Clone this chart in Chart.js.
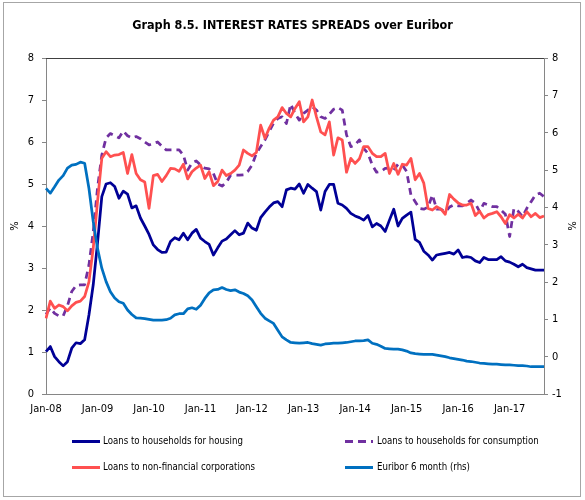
<!DOCTYPE html>
<html>
<head>
<meta charset="utf-8">
<script src="https://cdn.jsdelivr.net/npm/chart.js@4.4.1/dist/chart.umd.min.js"></script>
<style>
  html, body { margin: 0; padding: 0; background: #fff; }
  #wrap { position: relative; width: 585px; height: 500px; overflow: hidden; }
  #frame { position: absolute; left: 3px; top: 2px; width: 578px; height: 495px; border: 1px solid #a6a6a6; box-sizing: border-box; }
  canvas { position: absolute; left: 0; top: 0; }
  .lg { position: absolute; font-family: 'Liberation Sans Narrow', 'DejaVu Sans Condensed', sans-serif; font-size: 9.6px; color: #000; white-space: nowrap; line-height: 14px; }
  .sw { position: absolute; height: 3px; }
</style>
</head>
<body>
<div id="wrap">
  <div id="frame"></div>
  <canvas id="c" width="585" height="500"></canvas>
  <div id="legend"></div>
</div>
<script>
// ---- data (monthly, Jan-08 .. Sep-17) ----
const monthNames = ['Jan','Feb','Mar','Apr','May','Jun','Jul','Aug','Sep','Oct','Nov','Dec'];
const startYear = 2008;
const nMonths = 117;
const categories = [];
for (let i = 0; i < nMonths; i++) {
  const y = (startYear + Math.floor(i / 12)) % 100;
  categories.push(monthNames[i % 12] + '-' + (y < 10 ? '0' + y : '' + y));
}
const tickLabels = ['Jan-08','Jan-09','Jan-10','Jan-11','Jan-12','Jan-13','Jan-14','Jan-15','Jan-16','Jan-17'];

const housing = [
  1.01,1.13,0.89,0.77,0.67,0.77,1.09,1.22,1.20,1.29,1.88,2.60,
  3.60,4.70,5.00,5.03,4.94,4.66,4.83,4.76,4.43,4.48,4.19,4.00,
  3.80,3.55,3.44,3.37,3.38,3.63,3.72,3.67,3.83,3.67,3.83,3.92,
  3.71,3.63,3.56,3.31,3.48,3.64,3.69,3.79,3.89,3.79,3.83,4.07,
  3.95,3.90,4.20,4.33,4.45,4.55,4.58,4.46,4.86,4.90,4.88,5.00,
  4.78,4.99,4.90,4.82,4.38,4.82,4.99,4.99,4.54,4.50,4.42,4.30,
  4.24,4.20,4.14,4.25,3.98,4.06,4.00,3.87,4.14,4.40,4.00,4.18,
  4.26,4.33,3.68,3.61,3.40,3.31,3.19,3.31,3.33,3.35,3.37,3.33,
  3.43,3.25,3.27,3.25,3.17,3.13,3.25,3.20,3.20,3.20,3.27,3.17,
  3.14,3.09,3.03,3.09,3.01,2.98,2.95,2.95,2.95
];
const consumption = [
  1.90,2.05,1.92,1.86,1.86,2.10,2.44,2.58,2.60,2.60,3.07,3.86,
  4.90,5.69,6.10,6.20,6.15,6.10,6.26,6.15,6.10,6.13,6.08,6.00,
  5.93,5.97,6.00,5.90,5.81,5.81,5.81,5.81,5.69,5.33,5.50,5.55,
  5.45,5.38,5.36,5.25,5.00,4.95,5.04,5.21,5.21,5.21,5.22,5.30,
  5.45,5.73,5.89,6.05,6.25,6.45,6.56,6.60,6.44,6.90,6.68,6.52,
  6.68,6.76,6.84,6.76,6.60,6.56,6.66,6.78,6.82,6.76,6.17,5.89,
  5.93,6.05,5.85,5.73,5.45,5.28,5.30,5.37,5.38,5.33,5.47,5.45,
  5.30,4.74,4.58,4.42,4.40,4.45,4.74,4.40,4.40,4.34,4.45,4.50,
  4.48,4.48,4.54,4.62,4.54,4.34,4.54,4.50,4.46,4.46,4.38,4.28,
  3.75,4.42,4.35,4.22,4.42,4.58,4.74,4.78,4.70
];
const corporations = [
  1.80,2.21,2.04,2.12,2.08,1.98,2.10,2.18,2.21,2.32,2.67,3.47,
  4.58,5.61,5.77,5.65,5.69,5.70,5.75,5.25,5.70,5.25,5.10,5.05,
  4.42,5.20,5.23,5.06,5.20,5.37,5.36,5.30,5.47,5.12,5.29,5.38,
  5.45,5.13,5.29,4.96,5.06,5.33,5.20,5.25,5.33,5.45,5.81,5.73,
  5.67,5.75,6.40,6.09,6.33,6.52,6.60,6.82,6.68,6.60,6.80,6.96,
  6.48,6.60,7.00,6.60,6.24,6.17,6.48,5.69,6.10,6.05,5.28,5.61,
  5.49,5.60,5.89,5.89,5.73,5.65,5.65,5.73,5.25,5.49,5.23,5.47,
  5.45,5.61,5.10,5.25,5.02,4.42,4.38,4.46,4.40,4.28,4.75,4.64,
  4.55,4.50,4.50,4.54,4.25,4.35,4.19,4.27,4.30,4.34,4.22,4.06,
  4.27,4.19,4.28,4.19,4.34,4.22,4.30,4.20,4.24
];
const euribor6m = [
  4.51,4.38,4.55,4.73,4.85,5.05,5.13,5.15,5.21,5.18,4.51,3.62,
  2.90,2.37,2.01,1.74,1.57,1.47,1.43,1.25,1.13,1.04,1.03,1.02,
  1.00,0.98,0.98,0.98,0.99,1.03,1.12,1.15,1.15,1.28,1.31,1.27,
  1.38,1.56,1.71,1.79,1.80,1.85,1.80,1.77,1.79,1.73,1.69,1.63,
  1.52,1.34,1.16,1.03,0.96,0.89,0.71,0.53,0.45,0.38,0.37,0.36,
  0.37,0.38,0.35,0.33,0.31,0.34,0.35,0.36,0.36,0.37,0.38,0.40,
  0.42,0.42,0.43,0.45,0.36,0.33,0.28,0.22,0.21,0.20,0.20,0.18,
  0.15,0.10,0.08,0.07,0.06,0.06,0.06,0.04,0.02,0.00,-0.03,-0.05,
  -0.07,-0.09,-0.12,-0.13,-0.15,-0.17,-0.18,-0.19,-0.20,-0.20,-0.21,-0.22,
  -0.22,-0.23,-0.24,-0.24,-0.25,-0.27,-0.27,-0.27,-0.27
];

const seriesNames = ['Loans to households for housing','Loans to households for consumption','Loans to non-financial corporations','Euribor 6 month (rhs)'];
const seriesColors = ['#000096','#7030A0','#FF5050','#0070C0'];

// ---- chart ----
const FONT = "'Liberation Sans Narrow', 'DejaVu Sans Condensed', sans-serif";
Chart.defaults.font.family = FONT;
Chart.defaults.font.size = 11;
Chart.defaults.color = '#000';

const axisGray = '#868686';

const topBorder = {
  id: 'topBorder',
  afterDraw(chart) {
    const a = chart.chartArea, ctx = chart.ctx;
    ctx.save();
    ctx.strokeStyle = '#404040';
    ctx.lineWidth = 1;
    ctx.beginPath();
    ctx.moveTo(a.left, Math.round(a.top) + 0.5);
    ctx.lineTo(a.right, Math.round(a.top) + 0.5);
    ctx.stroke();
    ctx.restore();
  }
};

function lineDs(i, data, axis, extra) {
  return Object.assign({
    label: seriesNames[i],
    data: data,
    yAxisID: axis,
    borderColor: seriesColors[i],
    backgroundColor: seriesColors[i],
    borderWidth: 2.75,
    pointRadius: 0,
    pointHoverRadius: 0,
    tension: 0,
    fill: false,
    borderJoinStyle: 'round'
  }, extra || {});
}

new Chart(document.getElementById('c'), {
  type: 'line',
  data: {
    labels: categories,
    datasets: [
      lineDs(3, euribor6m, 'y1', { order: 0 }),
      lineDs(2, corporations, 'y', { order: 1 }),
      lineDs(1, consumption, 'y', { order: 2, borderDash: [7, 5] }),
      lineDs(0, housing, 'y', { order: 3 })
    ]
  },
  options: {
    responsive: false,
    animation: false,
    events: [],
    layout: { padding: { left: 0, right: 0, top: 0, bottom: 76 } },
    plugins: {
      legend: { display: false },
      tooltip: { enabled: false },
      title: {
        display: true,
        text: 'Graph 8.5. INTEREST RATES SPREADS over Euribor',
        font: { size: 12.5, weight: 'bold', family: FONT },
        color: '#000',
        padding: { top: 18, bottom: 25 }
      }
    },
    scales: {
      x: {
        type: 'category',
        offset: false,
        grid: { display: true, drawOnChartArea: false, drawTicks: false },
        border: { display: true, color: axisGray, width: 1 },
        ticks: {
          autoSkip: false, maxRotation: 0, minRotation: 0, padding: 9,
          font: { size: 11 },
          callback: function (v, idx) {
            const lab = categories[idx];
            return tickLabels.indexOf(lab) >= 0 ? lab : '';
          }
        },
        afterFit(s) { s.height = 30; }
      },
      y: {
        position: 'left',
        min: 0, max: 8,
        grid: { display: true, drawOnChartArea: false, drawTicks: true, tickLength: 4, color: axisGray },
        border: { display: true, color: axisGray, width: 1 },
        ticks: { stepSize: 1, padding: 8, font: { size: 11 } },
        title: { display: true, text: '%', font: { size: 11 }, padding: { top: 9, bottom: 0 } },
        afterFit(s) { s.width = 46; }
      },
      y1: {
        position: 'right',
        min: -1, max: 8,
        grid: { display: true, drawOnChartArea: false, drawTicks: true, tickLength: 4, color: axisGray },
        border: { display: true, color: axisGray, width: 1 },
        ticks: { stepSize: 1, padding: 4, font: { size: 11 } },
        title: { display: true, text: '%', font: { size: 11 }, padding: { top: 8, bottom: 0 } },
        afterFit(s) { s.width = 41; }
      }
    }
  },
  plugins: [topBorder]
});

// ---- legend (HTML, real text) ----
const legendPos = [
  { sx: 72, tx: 103, y: 441 },
  { sx: 345, tx: 377, y: 441 },
  { sx: 72, tx: 103, y: 467 },
  { sx: 345, tx: 377, y: 467 }
];
const lg = document.getElementById('legend');
[0, 1, 2, 3].forEach(function (si, k) {
  const p = legendPos[k];
  const sw = document.createElement('div');
  sw.className = 'sw';
  sw.style.left = p.sx + 'px';
  sw.style.top = (p.y - 1) + 'px';
  sw.style.width = '28px';
  sw.style.background = si === 1
    ? 'repeating-linear-gradient(90deg,' + seriesColors[si] + ' 0 8px, transparent 8px 13px)'
    : seriesColors[si];
  lg.appendChild(sw);
  const t = document.createElement('div');
  t.className = 'lg';
  t.style.left = p.tx + 'px';
  t.style.top = (p.y - 7) + 'px';
  t.textContent = seriesNames[si];
  lg.appendChild(t);
});
</script>
</body>
</html>
